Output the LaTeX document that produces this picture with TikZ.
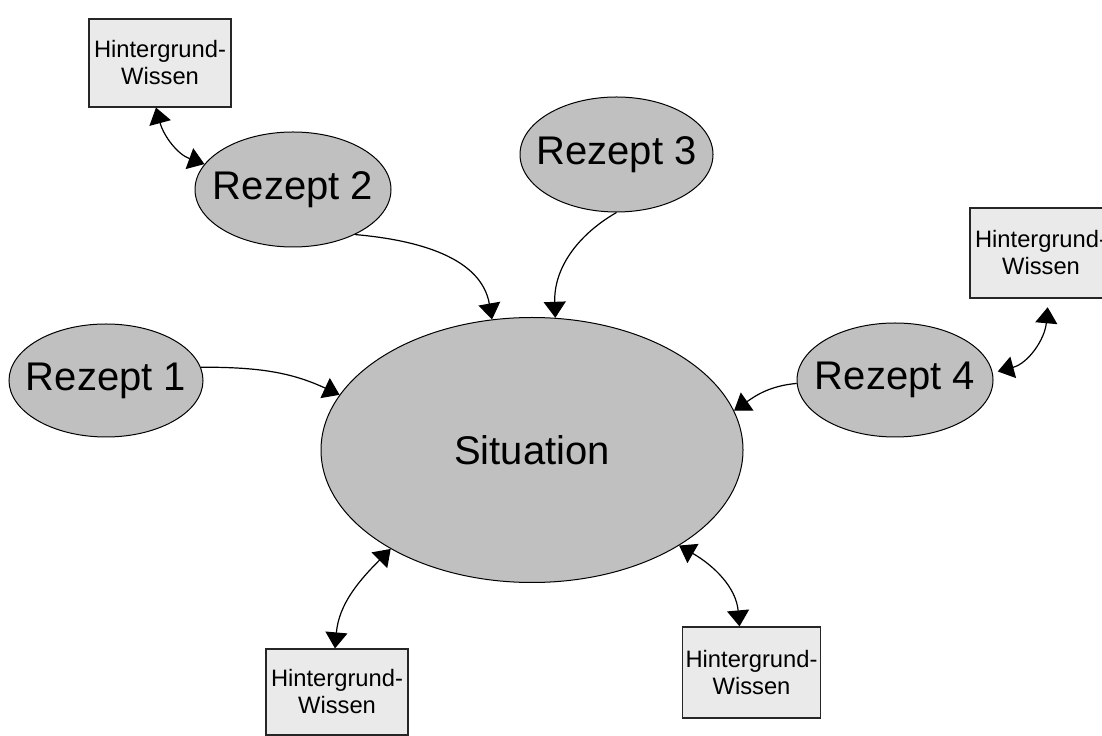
\documentclass[tikz,border=0pt]{standalone}
\usepackage{fontspec}
\setmainfont{Liberation Sans}
\usetikzlibrary{shapes.geometric,arrows.meta}
\definecolor{ellfill}{HTML}{C0C0C0}
\definecolor{boxfill}{HTML}{EAEAEA}
\newcommand\ztext[1]{\makebox[0pt][c]{#1}}
\begin{document}
\begin{tikzpicture}[x=0.75pt,y=0.75pt,
  rez/.style={ellipse,draw=black,line width=0.75pt,fill=ellfill,inner sep=0pt,
    font=\fontsize{30}{36}\selectfont},
  wbox/.style={rectangle,draw=black!85,line width=0.9pt,fill=boxfill,inner sep=0pt,
    align=center,font=\fontsize{17.8}{20.25}\selectfont},
  conn/.style={line width=0.9pt,-{Triangle[length=12pt,width=16.5pt]}},
  dbl/.style={line width=0.9pt,{Triangle[length=12pt,width=16.5pt]}-{Triangle[length=12pt,width=16.5pt]}}
]
\useasboundingbox (0,0) rectangle (1102,735);
\fill[white] (0,0) rectangle (1102,735);

\node[rez,minimum width=316.5pt,minimum height=198.75pt] (sit) at (532,285) {\ztext{Situation}};
\node[rez,minimum width=145.5pt,minimum height=84.75pt] (r1) at (106,354.5) {\ztext{Rezept 1}};
\node[rez,minimum width=147pt,minimum height=86.25pt] (r2) at (293,545.5) {\ztext{Rezept 2}};
\node[rez,minimum width=144.75pt,minimum height=86.25pt] (r3) at (616.5,580.5) {\ztext{Rezept 3}};
\node[rez,minimum width=147pt,minimum height=85.5pt] (r4) at (895,355) {\ztext{Rezept 4}};

\node[wbox,minimum width=106.5pt,minimum height=66pt] (b1) at (160,672) {Hintergrund-\\Wissen};
\node[wbox,minimum width=106.5pt,minimum height=67.5pt] (b2) at (1041,482) {Hintergrund-\\Wissen};
\node[wbox,minimum width=106.5pt,minimum height=64.5pt] (b3) at (337,43) {Hintergrund-\\Wissen};
\node[wbox,minimum width=103.5pt,minimum height=68.25pt] (b4) at (751.5,62.5) {Hintergrund-\\Wissen};

\draw[conn] (r1.8) to[out=0,in=155] (sit.164);
\draw[conn] (r2.324) to[out=-5,in=100] (sit.107);
\draw[conn] (r3.south) to[out=210,in=92] (sit.80);
\draw[conn] (r4.182) to[out=185,in=35] (sit.11);

\draw[dbl] ([xshift=-3pt]b1.south) to[out=-75,in=160] (r2.164);
\draw[dbl] ([xshift=5pt,yshift=-6.5pt]b2.south) to[out=-95,in=15] ([xshift=4pt]r4.5);
\draw[dbl] ([xshift=-1.5pt]b3.north) to[out=85,in=-135] (sit.215);
\draw[dbl] ([xshift=-9pt]b4.north) to[out=95,in=-30] (sit.327);
\end{tikzpicture}
\end{document}
